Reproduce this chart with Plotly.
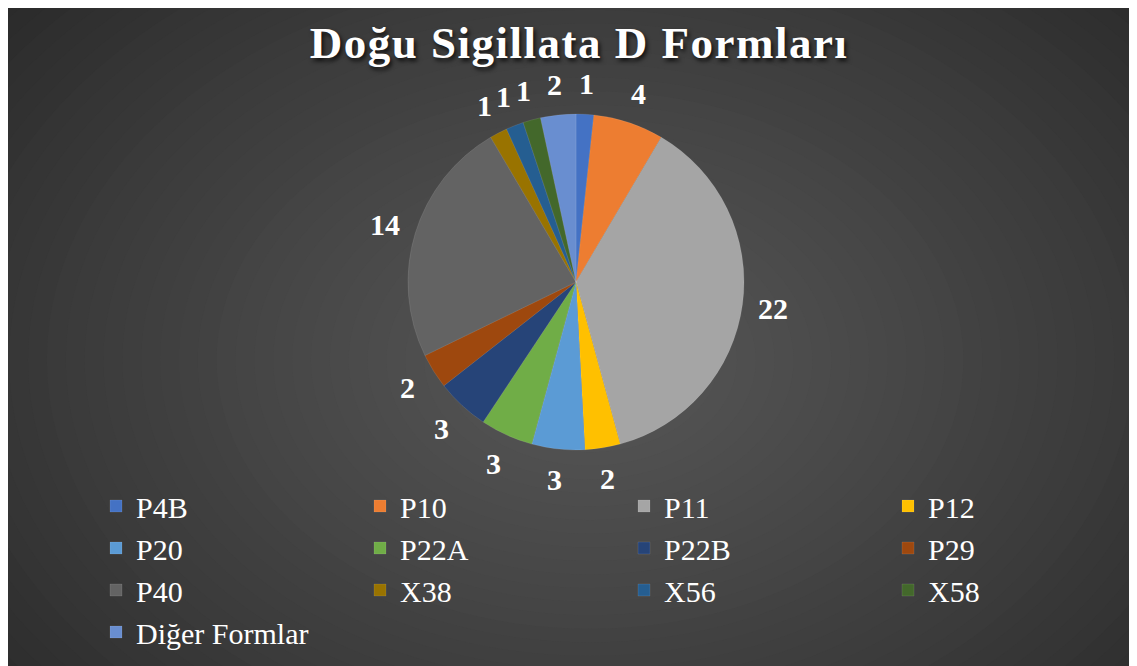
import math
import plotly.graph_objects as go

# ---- data ----
categories = ["P4B", "P10", "P11", "P12", "P20", "P22A", "P22B", "P29",
              "P40", "X38", "X56", "X58", "Diğer Formlar"]
counts = [1, 4, 22, 2, 3, 3, 3, 2, 14, 1, 1, 1, 2]
colors = ["#4472C4", "#ED7D31", "#A5A5A5", "#FFC000", "#5B9BD5", "#70AD47",
          "#264478", "#9E480E", "#636363", "#997300", "#255E91", "#43682B",
          "#698ED0"]
title_text = "Doğu Sigillata D Formları"

# figure is a bit wider than the window; the part beyond the window is simply cut off
W, H = 1300, 666
ML, MR, MT, MB = 0, 0, 0, 0
GW, GH = W - ML - MR, H - MT - MB


def fx(px):
    return (px - ML) / GW


def fy(py):
    return 1 - (py - MT) / GH


def lerp_hex(c1, c2, t):
    a = [int(c1[i:i + 2], 16) for i in (1, 3, 5)]
    b = [int(c2[i:i + 2], 16) for i in (1, 3, 5)]
    return "#" + "".join(f"{round(a[k] + (b[k] - a[k]) * t):02x}" for k in range(3))


shapes = []
# radial gradient background approximation
gcx, gcy = 582, 352
N = 45
rmax = 830
for i in range(N):
    t = i / (N - 1)
    rx = rmax * (1 - t) + 15
    ry = rx * 0.72
    col = lerp_hex("#242424", "#575757", t ** 0.85)
    shapes.append(dict(type="circle", xref="paper", yref="paper",
                       x0=fx(gcx - rx), x1=fx(gcx + rx), y0=fy(gcy + ry), y1=fy(gcy - ry),
                       fillcolor=col, line=dict(width=0), layer="below"))

# pie geometry (figure pixels)
pie_cx, pie_cy, pie_r = 568, 274, 168
label_r = 199

fig = go.Figure(go.Pie(
    labels=categories,
    values=counts,
    sort=False,
    direction="clockwise",
    rotation=0,
    marker=dict(colors=colors, line=dict(width=0.5, color="rgba(255,255,255,0.2)")),
    textinfo="none",
    domain=dict(x=[fx(pie_cx) - 0.25, fx(pie_cx) + 0.25],
                y=[fy(pie_cy + pie_r), fy(pie_cy - pie_r)]),
    hoverinfo="label+value+percent",
    showlegend=True,
))

# value labels outside each slice, at the mid-angle of the slice
total = sum(counts)
annotations = []
cum = 0
for v in counts:
    theta = (cum + v / 2) / total * 2 * math.pi
    cum += v
    lx = pie_cx + label_r * math.sin(theta)
    ly = pie_cy - label_r * math.cos(theta)
    annotations.append(dict(
        text=str(v), x=fx(lx), y=fy(ly), xref="paper", yref="paper",
        xanchor="center", yanchor="middle", showarrow=False,
        font=dict(family="Liberation Serif", size=30, color="white", weight="bold"),
    ))

fig.update_layout(
    width=W, height=H,
    margin=dict(l=ML, r=MR, t=MT, b=MB),
    paper_bgcolor="#262626",
    plot_bgcolor="rgba(0,0,0,0)",
    shapes=shapes,
    annotations=annotations,
    title=dict(
        text='<span style="letter-spacing:1.5px">' + title_text + '</span>',
        x=fx(571), xanchor="center", xref="paper",
        y=1 - 34 / H, yanchor="middle", yref="container",
        font=dict(family="Liberation Serif", size=45, color="white", weight="bold",
                  shadow="2px 3px 4px rgba(0,0,0,0.75)"),
    ),
    legend=dict(
        orientation="h",
        x=fx(88), xanchor="left",
        y=fy(472), yanchor="top",
        entrywidth=219, entrywidthmode="pixels",
        font=dict(family="Liberation Serif", size=30, color="white"),
        bgcolor="rgba(0,0,0,0)",
        traceorder="normal",
    ),
)

fig.write_html("out.html")
